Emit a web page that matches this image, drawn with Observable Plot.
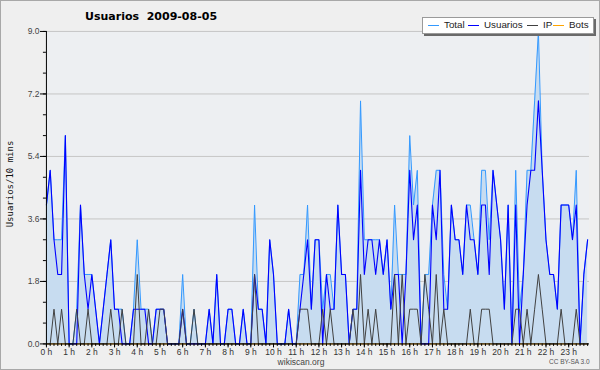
<!DOCTYPE html>
<html>
<head>
<meta charset="utf-8">
<script src="https://cdn.jsdelivr.net/npm/d3@7"></script>
<script src="https://cdn.jsdelivr.net/npm/@observablehq/plot@0.6"></script>
<style>
  html, body { margin: 0; padding: 0; background: #efefef; }
  #wrap { position: relative; width: 600px; height: 370px; box-sizing: border-box; border: 1px solid #a8a8a8; overflow: hidden; background: #efefef; }
  #chart { position: absolute; left: -1px; top: -1px; }
  .abs { position: absolute; white-space: pre; }
  #title { left: 84px; top: 9px; font: bold 11px "DejaVu Sans", sans-serif; color: #000; }
  #ylabel { left: 9px; top: 183px; transform: translate(-50%, -50%) rotate(-90deg); font: 9px "DejaVu Sans Mono", monospace; color: #111; }
  #legend { left: 421px; top: 16px; width: 170px; height: 15px; background: #fff; border: 1px solid #9a9a9a; box-shadow: 2px 2px 0 #6a6a6a; }
  .lg-line { position: absolute; top: 7px; width: 11px; height: 1px; }
  .lg-text { position: absolute; top: 1px; font: 9.8px "Liberation Sans", Arial, sans-serif; color: #222; white-space: pre; }
  #site { left: 0; width: 600px; text-align: center; top: 356px; font: 8.5px "Liberation Sans", Arial, sans-serif; color: #444; }
  #lic { left: 548px; top: 357px; font: 6.5px "Liberation Sans", Arial, sans-serif; color: #555; }
</style>
</head>
<body>
<div id="wrap">
  <div id="chart"></div>
  <div id="title" class="abs">Usuarios  2009-08-05</div>
  <div id="ylabel" class="abs">Usuarios/10 mins</div>
  <div id="legend" class="abs"></div>
  <div id="site" class="abs">wikiscan.org</div>
  <div id="lic" class="abs">CC BY-SA 3.0</div>
</div>
<script>
// 10-minute slots, 144 per day (one row per hour, 6 values each)
const total = [
  4,5,3,3,3,6,  0,0,1,4,2,2,  2,1,0,1,2,3,  1,1,1,0,0,1,
  3,1,1,1,0,1,  1,1,0,0,0,0,  2,0,0,1,0,0,  0,1,0,2,0,0,
  1,1,0,0,1,0,  0,4,1,1,0,3,  2,0,0,0,1,0,  0,2,2,4,1,3,
  3,1,2,2,1,4,  2,2,0,1,1,7,  3,3,3,3,3,2,  3,1,4,2,2,2,
  6,4,5,0,2,2,  4,5,5,2,1,4,  3,3,2,4,4,3,  2,5,5,3,5,4,
  3,1,4,0,5,1,  2,5,5,7,9,5,  3,2,2,1,4,4,  4,3,5,0,2,3
];
const usuarios = [
  4,5,3,2,2,6,  0,0,0,4,2,1,  2,1,0,1,2,3,  1,1,0,0,0,1,
  1,1,1,0,0,1,  1,1,0,0,0,0,  1,0,0,0,0,0,  0,1,0,2,0,0,
  1,1,0,0,1,0,  0,2,1,1,0,3,  2,0,0,0,1,0,  0,1,2,3,1,3,
  3,0,2,1,1,4,  2,2,0,1,1,5,  2,3,3,2,3,2,  3,1,2,2,0,2,
  5,3,4,0,0,0,  4,3,5,1,1,4,  3,3,2,4,3,3,  2,4,4,2,5,4,
  3,1,4,0,4,0,  2,4,5,5,7,5,  3,2,2,1,4,4,  4,3,4,0,2,3
];
const ip = [
  0,0,1,0,1,0,  0,0,1,0,0,1,  0,0,0,0,0,1,  0,0,1,0,0,0,
  2,0,0,1,0,0,  1,1,0,0,0,0,  1,0,0,1,0,0,  0,0,0,0,0,0,
  0,0,0,0,0,0,  0,2,0,0,0,0,  0,0,0,0,0,0,  0,1,1,1,0,0,
  0,1,0,1,0,0,  0,0,0,1,0,2,  0,1,0,1,0,0,  0,0,2,0,2,0,
  1,1,1,0,2,1,  0,2,0,1,0,0,  0,0,0,0,1,0,  0,1,1,1,0,0,
  0,0,0,0,1,1,  0,1,0,1,2,1,  0,0,0,0,1,0,  0,0,1,0,0,0
];
const bots = new Array(144).fill(0);
const hourLabels = d3.range(24).map(h => `${h} h`);
const yTicks = [0, 1.8, 3.6, 5.4, 7.2, 9.0];
const yMinor = [0, 0.6, 1.2, 1.8, 2.4, 3.0, 3.6, 4.2, 4.8, 5.4, 6.0, 6.6, 7.2, 7.8, 8.4, 9.0];

const rows = total.map((t, i) => ({i, total: t, usuarios: usuarios[i], ip: ip[i], bots: bots[i]}));

const series = [
  {name: "Total", color: "#3399ff"},
  {name: "Usuarios", color: "#0000ff"},
  {name: "IP", color: "#404040"},
  {name: "Bots", color: "#ffa500"}
];

const chart = Plot.plot({
  width: 600,
  height: 370,
  marginLeft: 46,
  marginRight: 10,
  marginTop: 31,
  marginBottom: 26,
  style: {background: "transparent", fontFamily: "Liberation Sans, Arial, sans-serif", fontSize: "8.5px", color: "#000"},
  x: {domain: [0, 143.5], axis: null},
  y: {domain: [0, 9], axis: null},
  marks: [
    Plot.rect([0], {x1: 0, x2: 143.5, y1: 0, y2: 9, fill: "#edeff2"}),
    Plot.gridY(yTicks, {stroke: "#c6c6c6", strokeOpacity: 1}),
    Plot.areaY(rows, {x: "i", y: "total", fill: "#c7dcf0", curve: "linear"}),
    Plot.lineY(rows, {x: "i", y: "bots", stroke: series[3].color, strokeWidth: 1}),
    Plot.lineY(rows, {x: "i", y: "total", stroke: series[0].color, strokeWidth: 1}),
    Plot.lineY(rows, {x: "i", y: "usuarios", stroke: series[1].color, strokeWidth: 1.1}),
    Plot.lineY(rows, {x: "i", y: "ip", stroke: series[2].color, strokeWidth: 1}),
    Plot.ruleX([0], {stroke: "#000", strokeWidth: 1}),
    Plot.ruleY([0], {stroke: "#000", strokeWidth: 1}),
    Plot.axisY({ticks: yTicks, tickFormat: d => d.toFixed(1), tickSize: 6, tickPadding: 1, label: null, fill: "#444", stroke: "#000"}),
    Plot.axisY({ticks: yMinor, tickFormat: null, text: null, tickSize: 3, label: null, stroke: "#000"}),
    Plot.axisX({ticks: d3.range(0, 144, 6), tickFormat: d => hourLabels[d / 6], tickSize: 4, tickPadding: 1, label: null, fill: "#333", stroke: "#000"}),
    Plot.axisX({ticks: d3.range(0, 144), text: null, tickSize: 2.5, label: null, stroke: "#000"})
  ]
});
document.getElementById("chart").appendChild(chart);

// legend
const legend = document.getElementById("legend");
const pos = [[5, 21], [45, 61], [104, 120], [130, 146]];
series.forEach((s, k) => {
  const ln = document.createElement("div");
  ln.className = "lg-line";
  ln.style.left = pos[k][0] + "px";
  ln.style.background = s.color;
  legend.appendChild(ln);
  const tx = document.createElement("div");
  tx.className = "lg-text";
  tx.style.left = pos[k][1] + "px";
  tx.textContent = s.name;
  legend.appendChild(tx);
});
</script>
</body>
</html>
